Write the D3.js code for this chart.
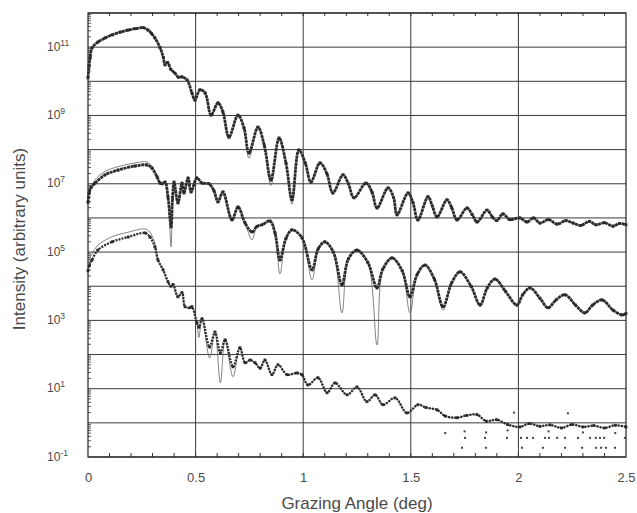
<!DOCTYPE html>
<html>
<head>
<meta charset="utf-8">
<script src="https://cdn.jsdelivr.net/npm/d3@7/dist/d3.min.js"></script>
<style>
    body { margin: 0; background: #fff; }
    text { font-family: "Liberation Sans", Arial, sans-serif; fill: #4a4a4a; }
</style>
</head>
<body>
<div id="viz"></div>
<script>
// [grazing angle (deg), log10 intensity]
const topScan = [
    [0, 10.10], [0.005, 10.45], [0.01, 10.7], [0.019, 10.98], [0.046, 11.15], [0.08, 11.27],
    [0.112, 11.36], [0.15, 11.44], [0.186, 11.50], [0.22, 11.54], [0.256, 11.57], [0.279, 11.50],
    [0.295, 11.40], [0.311, 11.27], [0.335, 10.98], [0.35, 10.70], [0.358, 10.48], [0.37, 10.55],
    [0.385, 10.35], [0.404, 10.24], [0.42, 10.12], [0.437, 10.13], [0.46, 10.04], [0.483, 9.66],
    [0.497, 9.45], [0.52, 9.75], [0.544, 9.66], [0.572, 9.01], [0.604, 9.37], [0.627, 9.10],
    [0.655, 8.37], [0.697, 9.01], [0.725, 8.63], [0.748, 7.90], [0.79, 8.66], [0.82, 8.1],
    [0.85, 7.11], [0.888, 8.34], [0.92, 7.6], [0.948, 6.53], [0.98, 7.99], [1.01, 7.6],
    [1.036, 7.05], [1.078, 7.61], [1.11, 7.3], [1.138, 6.73], [1.185, 7.26], [1.21, 7.0],
    [1.236, 6.59], [1.292, 7.02], [1.32, 6.75], [1.343, 6.29], [1.394, 6.88], [1.42, 6.6],
    [1.436, 6.09], [1.487, 6.73], [1.51, 6.45], [1.533, 5.94], [1.58, 6.62], [1.60, 6.35],
    [1.622, 6.03], [1.668, 6.53], [1.69, 6.3], [1.715, 5.94], [1.761, 6.29], [1.785, 6.1],
    [1.808, 5.88], [1.854, 6.23], [1.88, 6.02], [1.90, 5.92], [1.928, 6.12], [1.96, 5.95],
    [2.007, 6.0], [2.04, 5.88], [2.07, 6.0], [2.10, 5.85], [2.14, 5.95], [2.18, 5.82],
    [2.22, 5.92], [2.254, 5.85], [2.29, 5.78], [2.33, 5.9], [2.36, 5.8], [2.40, 5.86],
    [2.44, 5.76], [2.47, 5.84], [2.5, 5.80]
];
const topFit = [[0.655, 8.3], [0.748, 7.75], [0.85, 6.95], [0.948, 6.4]];

const middleScan = [
    [0, 6.45], [0.006, 6.75], [0.015, 6.9], [0.033, 7.02], [0.079, 7.26], [0.139, 7.40],
    [0.218, 7.52], [0.274, 7.55], [0.297, 7.46], [0.321, 7.20], [0.335, 7.02], [0.345, 7.0],
    [0.358, 7.05], [0.372, 6.6], [0.386, 5.74], [0.393, 6.6], [0.40, 7.05], [0.418, 6.44],
    [0.437, 7.02], [0.446, 6.73], [0.465, 7.17], [0.479, 6.76], [0.506, 7.17], [0.53, 7.02],
    [0.562, 7.0], [0.585, 6.8], [0.604, 6.47], [0.627, 6.76], [0.669, 5.94], [0.697, 6.32],
    [0.73, 5.85], [0.762, 5.59], [0.785, 5.75], [0.809, 5.80], [0.846, 5.91], [0.869, 5.56],
    [0.892, 4.77], [0.92, 5.4], [0.948, 5.65], [0.994, 5.42], [1.041, 4.48], [1.07, 5.1],
    [1.101, 5.30], [1.14, 5.0], [1.18, 4.04], [1.21, 4.8], [1.25, 5.06], [1.30, 4.7],
    [1.343, 3.95], [1.37, 4.5], [1.413, 4.83], [1.46, 4.45], [1.496, 3.69], [1.53, 4.35],
    [1.566, 4.62], [1.61, 4.2], [1.65, 3.40], [1.69, 4.1], [1.729, 4.42], [1.78, 4.0],
    [1.822, 3.45], [1.855, 3.95], [1.891, 4.21], [1.94, 3.85], [1.993, 3.45], [2.02, 3.75],
    [2.054, 3.95], [2.10, 3.65], [2.138, 3.37], [2.175, 3.6], [2.217, 3.75], [2.265, 3.45],
    [2.309, 3.22], [2.345, 3.45], [2.388, 3.60], [2.44, 3.3], [2.481, 3.16], [2.5, 3.2]
];
const middleFit = [
    [0, 6.6], [0.006, 6.88], [0.033, 7.12], [0.079, 7.36], [0.139, 7.50], [0.218, 7.61],
    [0.274, 7.64], [0.297, 7.52], [0.321, 7.22],
    [0.386, 5.15], [0.762, 5.36], [0.892, 4.36], [1.041, 4.19], [1.18, 3.22], [1.343, 2.28],
    [1.496, 3.22], [1.65, 3.3]
];

const bottomScan = [
    [0, 4.45], [0.006, 4.6], [0.019, 4.77], [0.046, 5.06], [0.112, 5.30], [0.186, 5.44],
    [0.265, 5.56], [0.288, 5.44], [0.311, 5.15], [0.325, 4.77], [0.349, 4.48], [0.372, 4.13],
    [0.385, 4.0], [0.395, 4.05], [0.418, 3.69], [0.437, 3.81], [0.451, 3.40], [0.474, 3.37],
    [0.483, 3.40], [0.506, 2.93], [0.515, 2.8], [0.53, 3.05], [0.565, 2.22], [0.59, 2.66],
    [0.615, 2.05], [0.637, 2.43], [0.674, 1.64], [0.706, 2.20], [0.73, 1.76], [0.753, 1.84],
    [0.776, 1.76], [0.80, 1.6], [0.822, 1.84], [0.855, 1.41], [0.883, 1.70], [0.925, 1.41],
    [0.971, 1.46], [0.994, 1.41], [1.022, 1.11], [1.069, 1.32], [1.111, 0.88], [1.148, 1.17],
    [1.204, 0.82], [1.25, 1.05], [1.296, 0.62], [1.334, 0.82], [1.371, 0.53], [1.427, 0.73],
    [1.482, 0.29], [1.533, 0.53], [1.57, 0.45], [1.622, 0.38], [1.66, 0.2], [1.715, 0.15],
    [1.76, 0.22], [1.808, 0.24], [1.85, 0.05], [1.90, 0.09], [1.95, -0.05], [2.007, -0.12],
    [2.05, -0.02], [2.10, -0.1], [2.147, -0.06], [2.2, -0.15], [2.25, -0.05], [2.30, -0.12],
    [2.35, -0.08], [2.40, -0.15], [2.45, -0.07], [2.5, -0.12]
];
const bottomFit = [
    [0, 4.6], [0.006, 4.78], [0.019, 4.95], [0.046, 5.2], [0.112, 5.45], [0.186, 5.58],
    [0.265, 5.68], [0.288, 5.58], [0.311, 5.25],
    [0.515, 2.5], [0.565, 1.9], [0.615, 1.17], [0.674, 1.35]
];

// stray low counts under the bottom scan
const bottomStray = [
    [1.66, -0.3], [1.738, -0.73], [1.75, -0.25], [1.752, -0.44], [1.845, -0.44], [1.849, -0.73],
    [1.85, -0.28], [1.947, -0.44], [1.95, -0.22], [1.98, 0.3], [2.012, -0.44], [2.017, -0.73],
    [2.04, -0.44], [2.068, -0.44], [2.114, -0.73], [2.124, -0.44], [2.14, -0.25], [2.142, -0.44],
    [2.18, -0.44], [2.217, -0.44], [2.217, -0.73], [2.23, 0.28], [2.277, -0.44], [2.296, -0.73],
    [2.3, -0.28], [2.333, -0.44], [2.36, -0.44], [2.36, -0.73], [2.379, -0.44], [2.384, -0.73],
    [2.398, -0.44], [2.407, -0.73], [2.449, -0.73], [2.45, -0.3], [2.495, -0.44]
];

const xTicks = [0, 0.5, 1, 1.5, 2, 2.5];
const yLabelExponents = [-1, 1, 3, 5, 7, 9, 11];

const width = 637,
    height = 513,
    margin = { top: 13, right: 11, bottom: 56, left: 88 };

let svg, x, y;

function toPoints(scan) {
    return scan.map(d => [d[0], Math.pow(10, d[1])]);
}

function withFit(scan, fit) {
    const fixes = new Map(fit);
    return scan.map(d => [d[0], fixes.has(d[0]) ? fixes.get(d[0]) : d[1]]);
}

function drawFrame() {
    const g = svg.append('g');
    const x0 = margin.left,
        x1 = width - margin.right,
        y0 = margin.top,
        y1 = height - margin.bottom;

    // decade grid
    g.selectAll('.hgrid')
        .data(d3.range(-1, 13))
        .join('line')
        .attr('x1', x0).attr('x2', x1)
        .attr('y1', d => y(Math.pow(10, d))).attr('y2', d => y(Math.pow(10, d)))
        .attr('stroke', '#3a3a3a')
        .attr('stroke-width', 1);

    g.selectAll('.vgrid')
        .data(xTicks.slice(1, -1))
        .join('line')
        .attr('x1', d => x(d)).attr('x2', d => x(d))
        .attr('y1', y0).attr('y2', y1)
        .attr('stroke', '#3a3a3a')
        .attr('stroke-width', 1);

    // minor ticks, 0.1 deg along top and bottom
    const minorX = d3.range(1, 25).map(i => i / 10);
    g.selectAll('.btick')
        .data(minorX)
        .join('line')
        .attr('x1', d => x(d)).attr('x2', d => x(d))
        .attr('y1', y1).attr('y2', y1 - 4)
        .attr('stroke', '#333');
    g.selectAll('.ttick')
        .data(minorX)
        .join('line')
        .attr('x1', d => x(d)).attr('x2', d => x(d))
        .attr('y1', y0).attr('y2', y0 + 3)
        .attr('stroke', '#333');

    // log minor ticks on the left
    const minorY = [];
    d3.range(-1, 12).forEach(e => {
        for (let m = 2; m < 10; m++) minorY.push(m * Math.pow(10, e));
    });
    g.selectAll('.ltick')
        .data(minorY)
        .join('line')
        .attr('x1', x0).attr('x2', x0 + 3)
        .attr('y1', d => y(d)).attr('y2', d => y(d))
        .attr('stroke', '#333')
        .attr('stroke-width', 0.8);

    g.append('rect')
        .attr('x', x0).attr('y', y0)
        .attr('width', x1 - x0).attr('height', y1 - y0)
        .attr('fill', 'none')
        .attr('stroke', '#222')
        .attr('stroke-width', 1.2);
}

function drawAxes() {
    const xAxis = svg.append('g')
        .attr('transform', `translate(0,${height - margin.bottom})`)
        .call(d3.axisBottom(x).tickValues(xTicks).tickSize(0).tickPadding(16).tickFormat(d3.format('')));
    xAxis.select('.domain').remove();
    xAxis.selectAll('text').style('font-size', '13px').attr('fill', '#555');

    const yAxis = svg.append('g')
        .attr('transform', `translate(${margin.left},0)`)
        .call(d3.axisLeft(y).tickValues(yLabelExponents.map(e => Math.pow(10, e))).tickSize(0).tickPadding(28));
    yAxis.select('.domain').remove();
    yAxis.selectAll('text')
        .attr('fill', '#555')
        .attr('text-anchor', 'start')
        .attr('x', -41)
        .each(function (d) {
            const t = d3.select(this).text(null);
            t.append('tspan').style('font-size', '12px').text('10');
            t.append('tspan').style('font-size', '8.5px').attr('dy', '-0.6em')
                .text(Math.round(Math.log10(d)).toString().replace('-', '\u2010'));
        });

    svg.append('text')
        .attr('x', (margin.left + width - margin.right) / 2)
        .attr('y', 509)
        .attr('text-anchor', 'middle')
        .style('font-size', '17px')
        .text('Grazing Angle (deg)');

    svg.append('text')
        .attr('transform', `translate(25,${(margin.top + height - margin.bottom) / 2 + 4}) rotate(-90)`)
        .attr('text-anchor', 'middle')
        .style('font-size', '17px')
        .text('Intensity (arbitrary units)');
}

function drawScan(scan, fit, weight, dash) {
    const line = d3.line()
        .x(d => x(d[0]))
        .y(d => y(d[1]))
        .curve(d3.curveCatmullRom.alpha(0.5));

    const g = svg.append('g');

    g.append('path')
        .attr('d', line(toPoints(withFit(scan, fit))))
        .attr('fill', 'none')
        .attr('stroke', '#666')
        .attr('stroke-width', 0.8);

    g.append('path')
        .attr('d', line(toPoints(scan)))
        .attr('fill', 'none')
        .attr('stroke', '#2b2b2b')
        .attr('stroke-width', weight)
        .attr('stroke-dasharray', dash);

    g.selectAll('rect')
        .data(toPoints(scan))
        .join('rect')
        .attr('x', d => x(d[0]) - 1.4)
        .attr('y', d => y(d[1]) - 1.4)
        .attr('width', 2.8)
        .attr('height', 2.8)
        .attr('fill', '#2b2b2b');
}

function drawStray(points) {
    svg.append('g')
        .selectAll('rect')
        .data(toPoints(points))
        .join('rect')
        .attr('x', d => x(d[0]) - 1)
        .attr('y', d => y(d[1]) - 1)
        .attr('width', 2)
        .attr('height', 2)
        .attr('fill', '#444');
}

function placeChart() {
    svg = d3.select('#viz').append('svg')
        .attr('width', width)
        .attr('height', height);

    x = d3.scaleLinear().domain([0, 2.5]).range([margin.left, width - margin.right]);
    y = d3.scaleLog().domain([1e-1, 1e12]).range([height - margin.bottom, margin.top]);

    drawFrame();
    drawScan(topScan, topFit, 2.8, '3,0.6');
    drawScan(middleScan, middleFit, 2.8, '3,0.6');
    drawScan(bottomScan, bottomFit, 2.3, '2,1.1');
    drawStray(bottomStray);
    drawAxes();
}

placeChart();
</script>
</body>
</html>
